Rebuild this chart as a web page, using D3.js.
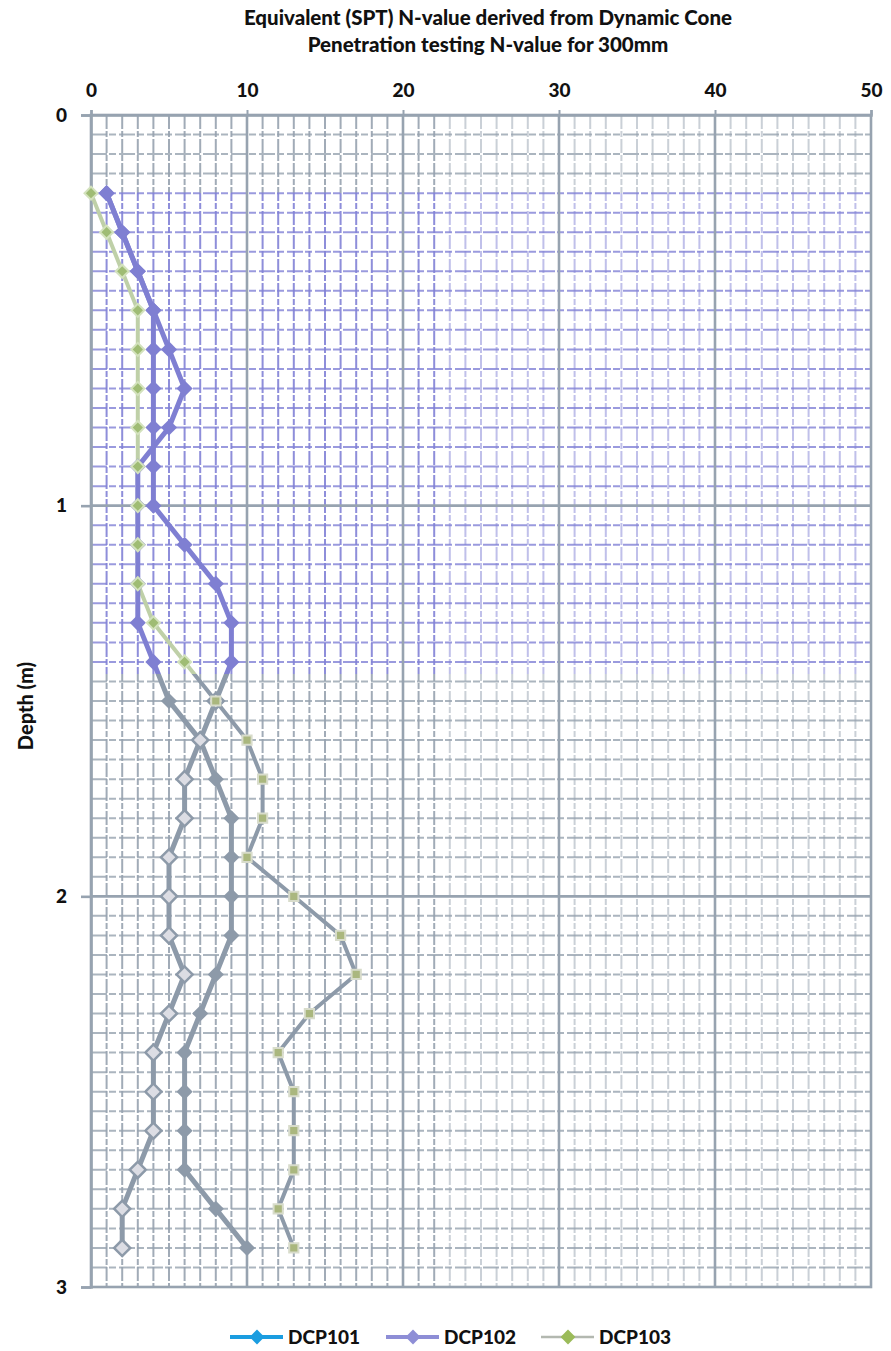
<!DOCTYPE html>
<head>
  <meta charset="utf-8">
  <script src="https://cdn.jsdelivr.net/npm/d3@7"></script>
  <style>
    body { margin:0; background:#fff; font-family:Lato, "Open Sans", sans-serif; }
    text { font-weight:900; fill:#111; }
  </style>
</head>
<body>
<script>
var width = 891, height = 1351;

// depth of each reading (m)
var depths = [0.2,0.3,0.4,0.5,0.6,0.7,0.8,0.9,1.0,1.1,1.2,1.3,1.4,1.5,1.6,1.7,1.8,1.9,2.0,2.1,2.2,2.3,2.4,2.5,2.6,2.7,2.8,2.9];
// equivalent N values per test
var dcp101 = [1,2,3,4,5,6,5,3,3,3,3,3,4,5,7,8,9,9,9,9,8,7,6,6,6,6,8,10];
var dcp102 = [1,2,3,4,4,4,4,4,4,6,8,9,9,8,7,6,6,5,5,5,6,5,4,4,4,3,2,2];
var dcp103 = [0,1,2,3,3,3,3,3,3,3,3,4,6,8,10,11,11,10,13,16,17,14,12,13,13,13,12,13];
var seriesNames = ["DCP101","DCP102","DCP103"];
var xTicks = [0,10,20,30,40,50];
var yTicks = [0,1,2,3];
var titleLines = ["Equivalent (SPT) N-value derived from Dynamic Cone",
                  "Penetration testing N-value for 300mm"];

var x = d3.scaleLinear().domain([0,50]).range([91,871]);
var y = d3.scaleLinear().domain([0,3]).range([115,1287]);

// the scan tints the upper part of the sheet purple
var tintTop = 0.2, tintBottom = 1.43;
var purple = "#7f7fd2", grey = "#8d9aa9";
var gridPurple = "#8282d6", gridGrey = "#97a3b0";

var svg = d3.select("body").append("svg")
  .attr("width", width).attr("height", height);

var defs = svg.append("defs");
function vGrad(id, top, mid, bottom) {
  var g = defs.append("linearGradient").attr("id", id)
    .attr("gradientUnits", "userSpaceOnUse")
    .attr("x1", 0).attr("x2", 0).attr("y1", y(0)).attr("y2", y(3));
  var a = tintTop/3, b = tintBottom/3;
  [[0,top],[a,top],[a,mid],[b,mid],[b,bottom],[1,bottom]].forEach(function(s) {
    g.append("stop").attr("offset", s[0]).attr("stop-color", s[1]);
  });
}
vGrad("gridGrad", gridGrey, gridPurple, gridGrey);
vGrad("lineGrad", purple, purple, grey);
vGrad("greenGrad", "#bfd0a8", "#bfd0a8", grey);

function inTint(d) { return d >= tintTop - 0.01 && d <= tintBottom; }

// graph paper grid
var grid = svg.append("g");
grid.selectAll(".vminor").data(d3.range(1,50).filter(function(d){ return d % 10 !== 0; })).enter().append("line")
  .attr("x1", x).attr("x2", x).attr("y1", y(0)).attr("y2", y(3))
  .attr("stroke", "url(#gridGrad)")
  .attr("stroke-width", 2)
  .attr("stroke-dasharray", "14,2,6,2")
  .attr("opacity", function(d){ return d > 22 ? 0.5 : 0.9; });
grid.selectAll(".hminor").data(d3.range(1,60).filter(function(i){ return i % 20 !== 0; })).enter().append("line")
  .attr("x1", x(0)).attr("x2", x(50))
  .attr("y1", function(i){ return y(i*0.05); }).attr("y2", function(i){ return y(i*0.05); })
  .attr("stroke", function(i){ return inTint(i*0.05) ? gridPurple : gridGrey; })
  .attr("stroke-width", 2)
  .attr("stroke-dasharray", "16,2,7,3")
  .attr("opacity", 0.8);
// major lines stay grey
grid.selectAll(".vmajor").data([10,20,30,40]).enter().append("line")
  .attr("x1", x).attr("x2", x).attr("y1", y(0)).attr("y2", y(3))
  .attr("stroke", gridGrey).attr("stroke-width", 2.6);
grid.selectAll(".hmajor").data([1,2]).enter().append("line")
  .attr("x1", x(0)).attr("x2", x(50)).attr("y1", y).attr("y2", y)
  .attr("stroke", gridGrey).attr("stroke-width", 2.6);

// frame + axes
svg.append("rect").attr("x", x(0)).attr("y", y(0))
  .attr("width", x(50)-x(0)).attr("height", y(3)-y(0))
  .attr("fill", "none").attr("stroke", gridGrey).attr("stroke-width", 2.6);

var xAxis = d3.axisTop(x).tickValues(xTicks).tickSize(5).tickPadding(13).tickFormat(d3.format("d"));
var gx = svg.append("g").attr("transform", "translate(0," + y(0) + ")").call(xAxis);
gx.select(".domain").attr("stroke", gridGrey).attr("stroke-width", 2.6);
gx.selectAll(".tick line").attr("stroke", gridGrey).attr("stroke-width", 2);
gx.selectAll(".tick text").style("font-size", "19px").style("font-family", "Lato").style("font-weight", "900").attr("fill", "#111");

var yAxis = d3.axisLeft(y).tickValues(yTicks).tickSize(10).tickPadding(14).tickFormat(d3.format("d"));
var gy = svg.append("g").attr("transform", "translate(" + x(0) + ",0)").call(yAxis);
gy.select(".domain").attr("stroke", gridGrey).attr("stroke-width", 2.6);
gy.selectAll(".tick line").attr("stroke", gridGrey).attr("stroke-width", 2.6);
gy.selectAll(".tick text").style("font-size", "19px").style("font-family", "Lato").style("font-weight", "900").attr("fill", "#111");

// titles
svg.selectAll(".title").data(titleLines).enter().append("text")
  .attr("x", 488).attr("y", function(d,i){ return 25 + i*27; })
  .attr("text-anchor", "middle").style("font-size", "20.5px").text(function(d){ return d; });

svg.append("text").attr("transform", "translate(33,706) rotate(-90)")
  .attr("text-anchor", "middle").style("font-size", "20px").text("Depth (m)");

// series
var line = d3.line().x(function(d){ return x(d[0]); }).y(function(d){ return y(d[1]); });
var diamond = d3.symbol().type(d3.symbolSquare).size(130);
var smallDiamond = d3.symbol().type(d3.symbolSquare).size(85);

function pts(vals) { return vals.map(function(v,i){ return [v, depths[i]]; }); }

// DCP103 first (lies below the others)
svg.append("path").datum(pts(dcp103)).attr("d", line)
  .attr("fill", "none").attr("stroke", "url(#greenGrad)").attr("stroke-width", 4);

svg.append("path").datum(pts(dcp101)).attr("d", line)
  .attr("fill", "none").attr("stroke", "url(#lineGrad)").attr("stroke-width", 5);
svg.append("path").datum(pts(dcp102)).attr("d", line)
  .attr("fill", "none").attr("stroke", "url(#lineGrad)").attr("stroke-width", 5);

svg.selectAll(".m101").data(pts(dcp101)).enter().append("path")
  .attr("d", diamond)
  .attr("transform", function(d){ return "translate(" + x(d[0]) + "," + y(d[1]) + ") rotate(45)"; })
  .attr("fill", function(d){ return inTint(d[1]) ? purple : grey; });

svg.selectAll(".m102").data(pts(dcp102)).enter().append("path")
  .attr("d", diamond)
  .attr("transform", function(d){ return "translate(" + x(d[0]) + "," + y(d[1]) + ") rotate(45)"; })
  .attr("fill", function(d){ return inTint(d[1]) ? purple : "#dcdde4"; })
  .attr("stroke", function(d){ return inTint(d[1]) ? "none" : grey; })
  .attr("stroke-width", 2.5);

svg.selectAll(".m103").data(pts(dcp103)).enter().append("path")
  .attr("d", smallDiamond)
  .attr("transform", function(d){ return "translate(" + x(d[0]) + "," + y(d[1]) + ") rotate(" + (inTint(d[1]) ? 45 : 0) + ")"; })
  .attr("fill", function(d){ return inTint(d[1]) ? "#9fbc74" : "#aab77e"; })
  .attr("stroke", function(d){ return inTint(d[1]) ? "#d3e2bd" : "#d8dccb"; })
  .attr("stroke-width", 2);

// legend
var legend = [
  {name: seriesNames[0], x0: 230, line: "#1b9de0", mark: "#1b9de0", w: 4},
  {name: seriesNames[1], x0: 386, line: "#8e8ed6", mark: "#8e8ed6", w: 4},
  {name: seriesNames[2], x0: 541, line: "#b3b8b0", mark: "#9bbb59", w: 2.5}
];
var lg = svg.selectAll(".leg").data(legend).enter().append("g")
  .attr("transform", function(d){ return "translate(" + d.x0 + ",1337)"; });
lg.append("line").attr("x1", 0).attr("x2", 53)
  .attr("stroke", function(d){ return d.line; }).attr("stroke-width", function(d){ return d.w; });
lg.append("path").attr("d", d3.symbol().type(d3.symbolSquare).size(110))
  .attr("transform", "translate(27,0) rotate(45)")
  .attr("fill", function(d){ return d.mark; });
lg.append("text").attr("x", 58).attr("y", 7).style("font-size", "19px")
  .text(function(d){ return d.name; });
</script>
</body>
